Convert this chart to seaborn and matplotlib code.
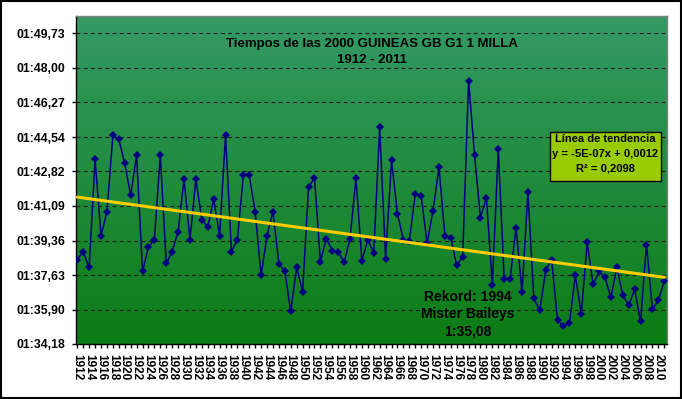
import numpy as np
import pandas as pd
import matplotlib
matplotlib.use("Agg")
import matplotlib.pyplot as plt
import seaborn as sns
from matplotlib.colors import LinearSegmentedColormap
from matplotlib.patches import Rectangle

# ---- data (race times in seconds) ----
years = list(range(1912, 2012))
times_sec = [
    98.41, 98.80, 98.01, 103.42, 99.60, 100.81, 104.62, 104.42, 103.22, 101.62,
    103.62, 97.81, 99.03, 99.41, 103.62, 98.21, 98.81, 99.81, 102.42, 99.41,
    102.42, 100.41, 100.03, 101.42, 99.60, 104.62, 98.81, 99.41, 102.62, 102.62,
    100.81, 97.61, 99.61, 100.81, 98.20, 97.81, 95.81, 98.01, 96.79, 102.02,
    102.50, 98.31, 99.46, 98.86, 98.80, 98.26, 99.46, 102.47, 98.36, 99.40,
    98.75, 105.02, 98.45, 103.37, 100.70, 99.40, 99.35, 101.67, 101.57, 99.23,
    100.86, 103.02, 99.61, 99.51, 98.11, 98.56, 107.37, 103.62, 100.51, 101.49,
    97.14, 103.92, 97.44, 97.44, 100.01, 96.76, 101.77, 96.46, 95.86, 97.87,
    98.41, 95.36, 95.08, 95.21, 97.61, 95.66, 99.27, 97.16, 97.81, 97.51,
    96.51, 98.01, 96.64, 96.11, 96.91, 95.31, 99.16, 95.91, 96.37, 97.32,
]
ytick_values = [94.18, 95.90, 97.63, 99.36, 101.09, 102.82, 104.54, 106.27, 108.00, 109.73]
ytick_labels = ["01:34,18", "01:35,90", "01:37,63", "01:39,36", "01:41,09",
                "01:42,82", "01:44,54", "01:46,27", "01:48,00", "01:49,73"]
xtick_years = list(range(1912, 2011, 2))
title_lines = ["Tiempos de las 2000 GUINEAS GB G1 1 MILLA", "1912 - 2011"]
trend_lines = ["Línea de tendencia", "y = -5E-07x + 0,0012", "R² = 0,2098"]
record_lines = ["Rekord: 1994", "Mister Baileys", "1:35,08"]

df = pd.DataFrame({"year": years, "time": times_sec})

sns.set_theme(style="white")
plt.rcParams["font.family"] = ["Liberation Sans", "DejaVu Sans"]

W, H = 682, 399
fig = plt.figure(figsize=(W / 100, H / 100), dpi=100)
fig.patch.set_facecolor("white")

def fx(px):
    return px / W

def fy(py):
    return 1 - py / H

ax = fig.add_axes([fx(76), fy(344), fx(667) - fx(76), fy(16) - fy(344)])

x0, x1 = 1911.78, 2011.46
y0, y1 = 94.18, 110.60

# gradient background
cmap = LinearSegmentedColormap.from_list("g", ["#0C7C14", "#359A66"])
grad = np.linspace(0, 1, 256).reshape(-1, 1)
ax.imshow(grad, extent=[x0, x1, y0, y1], origin="lower", aspect="auto",
          cmap=cmap, zorder=0, interpolation="bilinear")

# dashed gridlines
for v in ytick_values[1:]:
    ax.axhline(v, color="#1a1a1a", lw=0.8, ls=(0, (3.5, 3)), zorder=1)

sns.lineplot(data=df, x="year", y="time", ax=ax, color="#000080", linewidth=1.1,
             marker="D", markersize=3.6, markeredgewidth=0, zorder=3)
sns.regplot(data=df, x="year", y="time", ax=ax, scatter=False, ci=None,
            line_kws=dict(color="#FFCC00", linewidth=2.2, zorder=4))

ax.set_xlim(x0, x1)
ax.set_ylim(y0, y1)
ax.set_xlabel("")
ax.set_ylabel("")

ax.set_yticks(ytick_values)
ax.set_yticklabels(ytick_labels, fontsize=8.8, fontweight="bold", color="black")
ax.set_xticks(years)
ax.set_xticklabels([str(y) if y in xtick_years else "" for y in years],
                   rotation=270, fontsize=8.5, fontweight="bold", color="black")
ax.tick_params(axis="x", direction="out", length=3, width=1, color="black", pad=4,
               bottom=True)
ax.tick_params(axis="y", direction="out", length=3, width=1, color="black", pad=5,
               left=True)

for s in ["left", "bottom"]:
    ax.spines[s].set_color("black")
    ax.spines[s].set_linewidth(1)
for s in ["top", "right"]:
    ax.spines[s].set_color("#808080")
    ax.spines[s].set_linewidth(1)

# title inside plot
fig.text(fx(372), fy(44), title_lines[0], ha="center", va="center",
         fontsize=9.5, fontweight="bold", color="black")
fig.text(fx(372), fy(60), title_lines[1], ha="center", va="center",
         fontsize=9.5, fontweight="bold", color="black")

# trendline box
box = Rectangle((fx(550), fy(181)), fx(661) - fx(550), fy(132) - fy(181),
                transform=fig.transFigure, facecolor="#99CC00", edgecolor="black",
                linewidth=1, zorder=5)
fig.patches.append(box)
for txt, py in zip(trend_lines, [138.5, 154, 168.5]):
    fig.text(fx(605.5), fy(py), txt, ha="center", va="center", fontsize=8,
             fontweight="bold", color="black", zorder=6)

# record annotation
for txt, py in zip(record_lines, [297, 314, 331]):
    fig.text(fx(468), fy(py), txt, ha="center", va="center", fontsize=10,
             fontweight="bold", color="black", zorder=6)

# outer border
fig.patches.append(Rectangle((0.001, 0.002), 0.997, 0.996, transform=fig.transFigure,
                             fill=False, edgecolor="black", linewidth=1.5))

fig.savefig("out.png", dpi=100)
